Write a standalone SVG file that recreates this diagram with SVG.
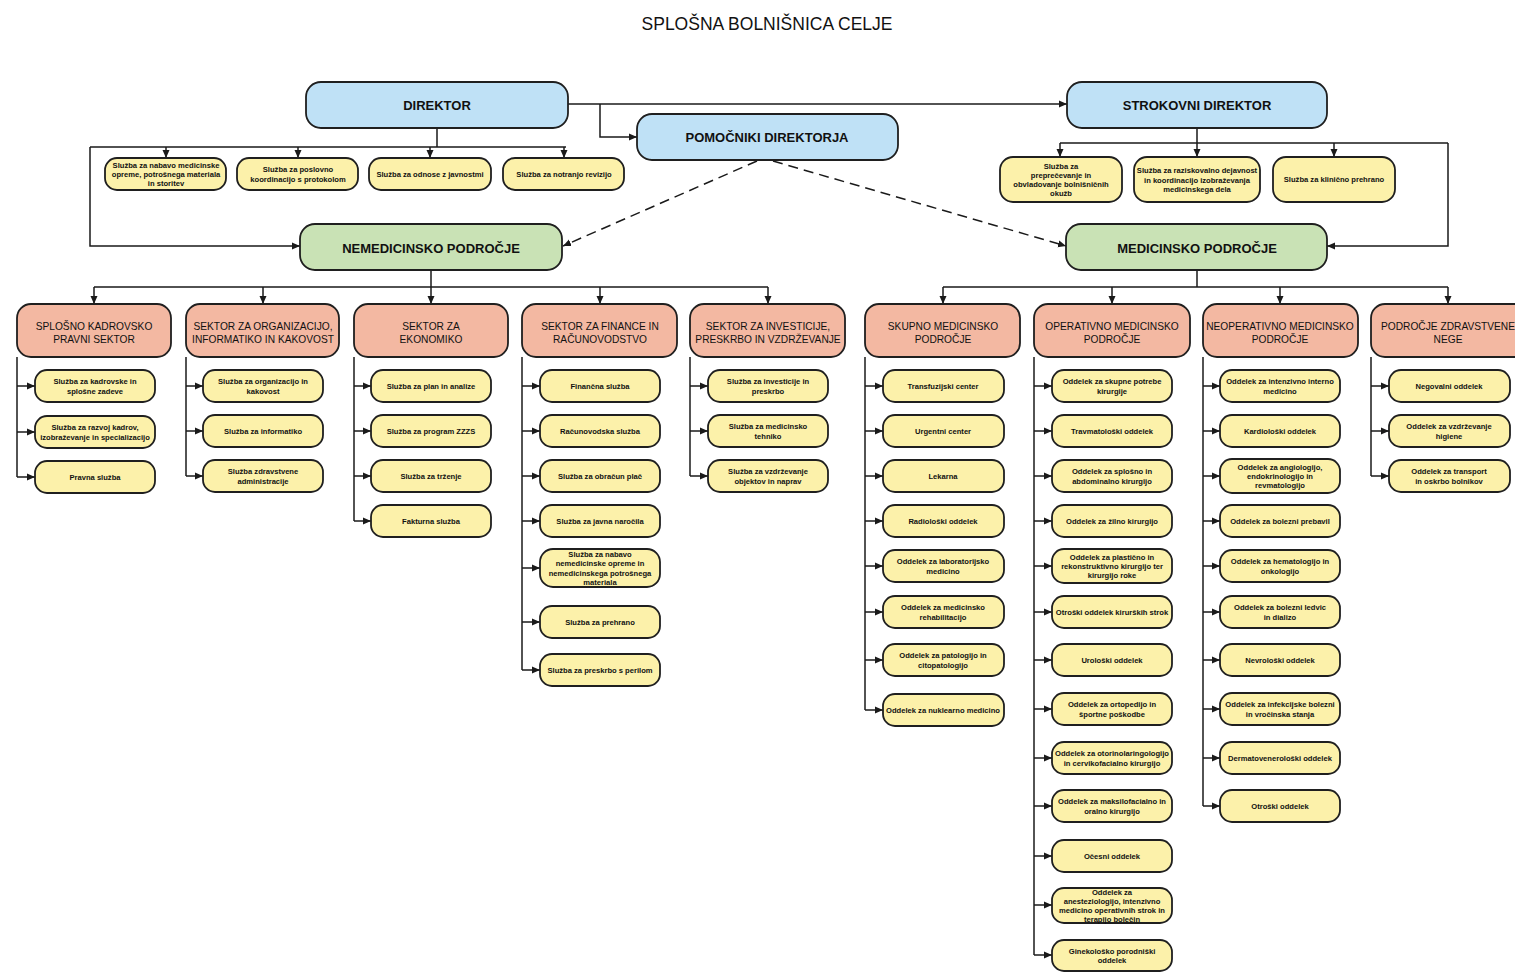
<svg xmlns="http://www.w3.org/2000/svg" width="1515" height="972" viewBox="0 0 1515 972">
<defs>
<marker id="ar" markerUnits="userSpaceOnUse" markerWidth="9" markerHeight="8" refX="8" refY="4" orient="auto"><path d="M0,0.5 L8,4 L0,7.5 z" fill="#1a1a1a"/></marker>
</defs>
<style>
.ln{fill:none;stroke:#1a1a1a;stroke-width:1.5}
.a{marker-end:url(#ar)}
.dash{stroke-dasharray:10 6}
.bl{fill:#bfe1f6;stroke:#1f1f1f;stroke-width:1.8}
.gr{fill:#c9e2b5;stroke:#1f1f1f;stroke-width:1.8}
.sa{fill:#f3b8a2;stroke:#1f1f1f;stroke-width:1.8}
.ye{fill:#fcf1aa;stroke:#1f1f1f;stroke-width:1.8}
text{font-family:"Liberation Sans",Arial,sans-serif;fill:#111;text-anchor:middle;dominant-baseline:central}
.t{font-size:17.5px}
.h{font-size:13px;font-weight:bold}
.s{font-size:10.2px}
.c{font-size:7.6px;font-weight:bold}
</style>
<rect width="1515" height="972" fill="#ffffff"/>
<text class="t" x="767" y="24">SPLOŠNA BOLNIŠNICA CELJE</text>

<g id="connectors">
<path class="ln a" d="M568,104 H1067"/>
<path class="ln a" d="M600,104 V137 H637"/>
<path class="ln" d="M437,128 V147 M90,147 H566"/>
<path class="ln a" d="M166,147 V158"/><path class="ln a" d="M298,147 V158"/><path class="ln a" d="M430,147 V158"/><path class="ln a" d="M564,147 V158"/>
<path class="ln a" d="M90,147 V246 H300"/>
<path class="ln" d="M1197,128 V143 M1060,143 H1448"/>
<path class="ln a" d="M1060,143 V157"/><path class="ln a" d="M1197,143 V157"/><path class="ln a" d="M1334,143 V157"/>
<path class="ln a" d="M1448,143 V246 H1327"/>
<path class="ln dash a" d="M757,161 L563,246"/>
<path class="ln dash a" d="M773,161 L1066,246"/>
<path class="ln" d="M431,270 V287 M94,287 H768"/>
<path class="ln a" d="M94,287 V304"/><path class="ln a" d="M263,287 V304"/><path class="ln a" d="M431,287 V304"/><path class="ln a" d="M600,287 V304"/><path class="ln a" d="M768,287 V304"/>
<path class="ln" d="M1197,270 V287 M943,287 H1448"/>
<path class="ln a" d="M943,287 V304"/><path class="ln a" d="M1112,287 V304"/><path class="ln a" d="M1280,287 V304"/><path class="ln a" d="M1448,287 V304"/>
<path class="ln" d="M17,357 V477"/>
<path class="ln a" d="M17,386 H35"/><path class="ln a" d="M17,432 H35"/><path class="ln a" d="M17,477 H35"/>
<path class="ln" d="M186,357 V476"/>
<path class="ln a" d="M186,386 H203"/><path class="ln a" d="M186,431 H203"/><path class="ln a" d="M186,476 H203"/>
<path class="ln" d="M354,357 V521"/>
<path class="ln a" d="M354,386 H371"/><path class="ln a" d="M354,431 H371"/><path class="ln a" d="M354,476 H371"/><path class="ln a" d="M354,521 H371"/>
<path class="ln" d="M522,357 V670"/>
<path class="ln a" d="M522,386 H540"/><path class="ln a" d="M522,431 H540"/><path class="ln a" d="M522,476 H540"/><path class="ln a" d="M522,521 H540"/><path class="ln a" d="M522,568 H540"/><path class="ln a" d="M522,622 H540"/><path class="ln a" d="M522,670 H540"/>
<path class="ln" d="M690,357 V476"/>
<path class="ln a" d="M690,386 H708"/><path class="ln a" d="M690,431 H708"/><path class="ln a" d="M690,476 H708"/>
<path class="ln" d="M865,357 V710"/>
<path class="ln a" d="M865,386 H883"/><path class="ln a" d="M865,431 H883"/><path class="ln a" d="M865,476 H883"/><path class="ln a" d="M865,521 H883"/><path class="ln a" d="M865,566 H883"/><path class="ln a" d="M865,612 H883"/><path class="ln a" d="M865,660 H883"/><path class="ln a" d="M865,710 H883"/>
<path class="ln" d="M1034,357 V955"/>
<path class="ln a" d="M1034,386 H1052"/><path class="ln a" d="M1034,431 H1052"/><path class="ln a" d="M1034,476 H1052"/><path class="ln a" d="M1034,521 H1052"/><path class="ln a" d="M1034,566 H1052"/><path class="ln a" d="M1034,612 H1052"/><path class="ln a" d="M1034,660 H1052"/><path class="ln a" d="M1034,709 H1052"/><path class="ln a" d="M1034,758 H1052"/><path class="ln a" d="M1034,806 H1052"/><path class="ln a" d="M1034,856 H1052"/><path class="ln a" d="M1034,905 H1052"/><path class="ln a" d="M1034,955 H1052"/>
<path class="ln" d="M1203,357 V806"/>
<path class="ln a" d="M1203,386 H1220"/><path class="ln a" d="M1203,431 H1220"/><path class="ln a" d="M1203,476 H1220"/><path class="ln a" d="M1203,521 H1220"/><path class="ln a" d="M1203,566 H1220"/><path class="ln a" d="M1203,612 H1220"/><path class="ln a" d="M1203,660 H1220"/><path class="ln a" d="M1203,709 H1220"/><path class="ln a" d="M1203,758 H1220"/><path class="ln a" d="M1203,806 H1220"/>
<path class="ln" d="M1371,357 V476"/>
<path class="ln a" d="M1371,386 H1389"/><path class="ln a" d="M1371,431 H1389"/><path class="ln a" d="M1371,476 H1389"/>
</g>

<g id="direktor"><rect class="bl" x="306" y="82" width="262" height="46" rx="15"/><text class="h" x="437" y="105">DIREKTOR</text></g>
<g id="strokovni-direktor"><rect class="bl" x="1067" y="82" width="260" height="46" rx="15"/><text class="h" x="1197" y="105">STROKOVNI DIREKTOR</text></g>
<g id="pomocniki"><rect class="bl" x="637" y="114" width="261" height="46" rx="15"/><text class="h" x="767" y="137">POMOČNIKI DIREKTORJA</text></g>
<g id="nemedicinsko"><rect class="gr" x="300" y="224" width="262" height="46" rx="15"/><text class="h" x="431" y="248">NEMEDICINSKO PODROČJE</text></g>
<g id="medicinsko"><rect class="gr" x="1066" y="224" width="261" height="46" rx="15"/><text class="h" x="1197" y="248">MEDICINSKO PODROČJE</text></g>

<g id="d1"><rect class="ye" x="105" y="158" width="121" height="32" rx="12"/><text class="c" x="166" y="164.8"><tspan x="166">Služba za nabavo medicinske</tspan><tspan x="166" dy="9.2">opreme, potrošnega materiala</tspan><tspan x="166" dy="9.2">in storitev</tspan></text></g>
<g id="d2"><rect class="ye" x="237" y="158" width="121" height="32" rx="12"/><text class="c" x="298" y="169.4"><tspan x="298">Služba za poslovno</tspan><tspan x="298" dy="9.2">koordinacijo s protokolom</tspan></text></g>
<g id="d3"><rect class="ye" x="369" y="158" width="122" height="32" rx="12"/><text class="c" x="430" y="174">Služba za odnose z javnostmi</text></g>
<g id="d4"><rect class="ye" x="503" y="158" width="121" height="32" rx="12"/><text class="c" x="564" y="174">Služba za notranjo revizijo</text></g>

<g id="s1"><rect class="ye" x="1000" y="157" width="122" height="45" rx="13"/><text class="c" x="1061" y="165.7"><tspan x="1061">Služba za</tspan><tspan x="1061" dy="9.2">preprečevanje in</tspan><tspan x="1061" dy="9.2">obvladovanje bolnišničnih</tspan><tspan x="1061" dy="9.2">okužb</tspan></text></g>
<g id="s2"><rect class="ye" x="1134" y="157" width="126" height="45" rx="13"/><text class="c" x="1197" y="170.3"><tspan x="1197">Služba za raziskovalno dejavnost</tspan><tspan x="1197" dy="9.2">in koordinacijo izobraževanja</tspan><tspan x="1197" dy="9.2">medicinskega dela</tspan></text></g>
<g id="s3"><rect class="ye" x="1273" y="157" width="122" height="45" rx="13"/><text class="c" x="1334" y="179.5">Služba za klinično prehrano</text></g>

<g id="sec1"><rect class="sa" x="17" y="304" width="154" height="53" rx="14"/><text class="s" x="94" y="326"><tspan x="94">SPLOŠNO KADROVSKO</tspan><tspan x="94" dy="13">PRAVNI SEKTOR</tspan></text></g>
<g id="sec2"><rect class="sa" x="186" y="304" width="153" height="53" rx="14"/><text class="s" x="263" y="326"><tspan x="263">SEKTOR ZA ORGANIZACIJO,</tspan><tspan x="263" dy="13">INFORMATIKO IN KAKOVOST</tspan></text></g>
<g id="sec3"><rect class="sa" x="354" y="304" width="154" height="53" rx="14"/><text class="s" x="431" y="326"><tspan x="431">SEKTOR ZA</tspan><tspan x="431" dy="13">EKONOMIKO</tspan></text></g>
<g id="sec4"><rect class="sa" x="522" y="304" width="155" height="53" rx="14"/><text class="s" x="600" y="326"><tspan x="600">SEKTOR ZA FINANCE IN</tspan><tspan x="600" dy="13">RAČUNOVODSTVO</tspan></text></g>
<g id="sec5"><rect class="sa" x="690" y="304" width="155" height="53" rx="14"/><text class="s" x="768" y="326"><tspan x="768">SEKTOR ZA INVESTICIJE,</tspan><tspan x="768" dy="13">PRESKRBO IN VZDRŽEVANJE</tspan></text></g>
<g id="sec6"><rect class="sa" x="865" y="304" width="155" height="53" rx="14"/><text class="s" x="943" y="326"><tspan x="943">SKUPNO MEDICINSKO</tspan><tspan x="943" dy="13">PODROČJE</tspan></text></g>
<g id="sec7"><rect class="sa" x="1034" y="304" width="156" height="53" rx="14"/><text class="s" x="1112" y="326"><tspan x="1112">OPERATIVNO MEDICINSKO</tspan><tspan x="1112" dy="13">PODROČJE</tspan></text></g>
<g id="sec8"><rect class="sa" x="1203" y="304" width="155" height="53" rx="14"/><text class="s" x="1280" y="326"><tspan x="1280">NEOPERATIVNO MEDICINSKO</tspan><tspan x="1280" dy="13">PODROČJE</tspan></text></g>
<g id="sec9"><rect class="sa" x="1371" y="304" width="160" height="53" rx="14"/><text class="s" x="1448" y="326"><tspan x="1448">PODROČJE ZDRAVSTVENE</tspan><tspan x="1448" dy="13">NEGE</tspan></text></g>

<g id="c1-1"><rect class="ye" x="35" y="370" width="120" height="32" rx="12"/><text class="c" x="95" y="381.4"><tspan x="95">Služba za kadrovske in</tspan><tspan x="95" dy="9.2">splošne zadeve</tspan></text></g>
<g id="c1-2"><rect class="ye" x="35" y="416" width="120" height="32" rx="12"/><text class="c" x="95" y="427.4"><tspan x="95">Služba za razvoj kadrov,</tspan><tspan x="95" dy="9.2">izobraževanje in specializacijo</tspan></text></g>
<g id="c1-3"><rect class="ye" x="35" y="461" width="120" height="32" rx="12"/><text class="c" x="95" y="477">Pravna služba</text></g>
<g id="c2-1"><rect class="ye" x="203" y="370" width="120" height="32" rx="12"/><text class="c" x="263" y="381.4"><tspan x="263">Služba za organizacijo in</tspan><tspan x="263" dy="9.2">kakovost</tspan></text></g>
<g id="c2-2"><rect class="ye" x="203" y="415" width="120" height="32" rx="12"/><text class="c" x="263" y="431">Služba za informatiko</text></g>
<g id="c2-3"><rect class="ye" x="203" y="460" width="120" height="32" rx="12"/><text class="c" x="263" y="471.4"><tspan x="263">Služba zdravstvene</tspan><tspan x="263" dy="9.2">administracije</tspan></text></g>
<g id="c3-1"><rect class="ye" x="371" y="370" width="120" height="32" rx="12"/><text class="c" x="431" y="386">Služba za plan in analize</text></g>
<g id="c3-2"><rect class="ye" x="371" y="415" width="120" height="32" rx="12"/><text class="c" x="431" y="431">Služba za program ZZZS</text></g>
<g id="c3-3"><rect class="ye" x="371" y="460" width="120" height="32" rx="12"/><text class="c" x="431" y="476">Služba za trženje</text></g>
<g id="c3-4"><rect class="ye" x="371" y="505" width="120" height="32" rx="12"/><text class="c" x="431" y="521">Fakturna služba</text></g>
<g id="c4-1"><rect class="ye" x="540" y="370" width="120" height="32" rx="12"/><text class="c" x="600" y="386">Finančna služba</text></g>
<g id="c4-2"><rect class="ye" x="540" y="415" width="120" height="32" rx="12"/><text class="c" x="600" y="431">Računovodska služba</text></g>
<g id="c4-3"><rect class="ye" x="540" y="460" width="120" height="32" rx="12"/><text class="c" x="600" y="476">Služba za obračun plač</text></g>
<g id="c4-4"><rect class="ye" x="540" y="505" width="120" height="32" rx="12"/><text class="c" x="600" y="521">Služba za javna naročila</text></g>
<g id="c4-5"><rect class="ye" x="540" y="549" width="120" height="38" rx="13"/><text class="c" x="600" y="554.2"><tspan x="600">Služba za nabavo</tspan><tspan x="600" dy="9.2">nemedicinske opreme in</tspan><tspan x="600" dy="9.2">nemedicinskega potrošnega</tspan><tspan x="600" dy="9.2">materiala</tspan></text></g>
<g id="c4-6"><rect class="ye" x="540" y="606" width="120" height="32" rx="12"/><text class="c" x="600" y="622">Služba za prehrano</text></g>
<g id="c4-7"><rect class="ye" x="540" y="654" width="120" height="32" rx="12"/><text class="c" x="600" y="670">Služba za preskrbo s perilom</text></g>
<g id="c5-1"><rect class="ye" x="708" y="370" width="120" height="32" rx="12"/><text class="c" x="768" y="381.4"><tspan x="768">Služba za investicije in</tspan><tspan x="768" dy="9.2">preskrbo</tspan></text></g>
<g id="c5-2"><rect class="ye" x="708" y="415" width="120" height="32" rx="12"/><text class="c" x="768" y="426.4"><tspan x="768">Služba za medicinsko</tspan><tspan x="768" dy="9.2">tehniko</tspan></text></g>
<g id="c5-3"><rect class="ye" x="708" y="460" width="120" height="32" rx="12"/><text class="c" x="768" y="471.4"><tspan x="768">Služba za vzdrževanje</tspan><tspan x="768" dy="9.2">objektov in naprav</tspan></text></g>
<g id="c6-1"><rect class="ye" x="883" y="370" width="121" height="32" rx="12"/><text class="c" x="943" y="386">Transfuzijski center</text></g>
<g id="c6-2"><rect class="ye" x="883" y="415" width="121" height="32" rx="12"/><text class="c" x="943" y="431">Urgentni center</text></g>
<g id="c6-3"><rect class="ye" x="883" y="460" width="121" height="32" rx="12"/><text class="c" x="943" y="476">Lekarna</text></g>
<g id="c6-4"><rect class="ye" x="883" y="505" width="121" height="32" rx="12"/><text class="c" x="943" y="521">Radiološki oddelek</text></g>
<g id="c6-5"><rect class="ye" x="883" y="550" width="121" height="32" rx="12"/><text class="c" x="943" y="561.4"><tspan x="943">Oddelek za laboratorijsko</tspan><tspan x="943" dy="9.2">medicino</tspan></text></g>
<g id="c6-6"><rect class="ye" x="883" y="596" width="121" height="32" rx="12"/><text class="c" x="943" y="607.4"><tspan x="943">Oddelek za medicinsko</tspan><tspan x="943" dy="9.2">rehabilitacijo</tspan></text></g>
<g id="c6-7"><rect class="ye" x="883" y="644" width="121" height="32" rx="12"/><text class="c" x="943" y="655.4"><tspan x="943">Oddelek za patologijo in</tspan><tspan x="943" dy="9.2">citopatologijo</tspan></text></g>
<g id="c6-8"><rect class="ye" x="883" y="694" width="121" height="32" rx="12"/><text class="c" x="943" y="710">Oddelek za nuklearno medicino</text></g>
<g id="c7-1"><rect class="ye" x="1052" y="370" width="120" height="32" rx="12"/><text class="c" x="1112" y="381.4"><tspan x="1112">Oddelek za skupne potrebe</tspan><tspan x="1112" dy="9.2">kirurgije</tspan></text></g>
<g id="c7-2"><rect class="ye" x="1052" y="415" width="120" height="32" rx="12"/><text class="c" x="1112" y="431">Travmatološki oddelek</text></g>
<g id="c7-3"><rect class="ye" x="1052" y="460" width="120" height="32" rx="12"/><text class="c" x="1112" y="471.4"><tspan x="1112">Oddelek za splošno in</tspan><tspan x="1112" dy="9.2">abdominalno kirurgijo</tspan></text></g>
<g id="c7-4"><rect class="ye" x="1052" y="505" width="120" height="32" rx="12"/><text class="c" x="1112" y="521">Oddelek za žilno kirurgijo</text></g>
<g id="c7-5"><rect class="ye" x="1052" y="549" width="120" height="34" rx="12"/><text class="c" x="1112" y="556.8"><tspan x="1112">Oddelek za plastično in</tspan><tspan x="1112" dy="9.2">rekonstruktivno kirurgijo ter</tspan><tspan x="1112" dy="9.2">kirurgijo roke</tspan></text></g>
<g id="c7-6"><rect class="ye" x="1052" y="596" width="120" height="32" rx="12"/><text class="c" x="1112" y="612">Otroški oddelek kirurških strok</text></g>
<g id="c7-7"><rect class="ye" x="1052" y="644" width="120" height="32" rx="12"/><text class="c" x="1112" y="660">Urološki oddelek</text></g>
<g id="c7-8"><rect class="ye" x="1052" y="693" width="120" height="32" rx="12"/><text class="c" x="1112" y="704.4"><tspan x="1112">Oddelek za ortopedijo in</tspan><tspan x="1112" dy="9.2">športne poškodbe</tspan></text></g>
<g id="c7-9"><rect class="ye" x="1052" y="742" width="120" height="32" rx="12"/><text class="c" x="1112" y="753.4"><tspan x="1112">Oddelek za otorinolaringologijo</tspan><tspan x="1112" dy="9.2">in cervikofacialno kirurgijo</tspan></text></g>
<g id="c7-10"><rect class="ye" x="1052" y="790" width="120" height="32" rx="12"/><text class="c" x="1112" y="801.4"><tspan x="1112">Oddelek za maksilofacialno in</tspan><tspan x="1112" dy="9.2">oralno kirurgijo</tspan></text></g>
<g id="c7-11"><rect class="ye" x="1052" y="840" width="120" height="32" rx="12"/><text class="c" x="1112" y="856">Očesni oddelek</text></g>
<g id="c7-12"><rect class="ye" x="1052" y="888" width="120" height="35" rx="12"/><text class="c" x="1112" y="891.7"><tspan x="1112">Oddelek za</tspan><tspan x="1112" dy="9.2">anesteziologijo, intenzivno</tspan><tspan x="1112" dy="9.2">medicino operativnih strok in</tspan><tspan x="1112" dy="9.2">terapijo bolečin</tspan></text></g>
<g id="c7-13"><rect class="ye" x="1052" y="940" width="120" height="31" rx="12"/><text class="c" x="1112" y="951"><tspan x="1112">Ginekološko porodniški</tspan><tspan x="1112" dy="9.2">oddelek</tspan></text></g>
<g id="c8-1"><rect class="ye" x="1220" y="370" width="120" height="32" rx="12"/><text class="c" x="1280" y="381.4"><tspan x="1280">Oddelek za intenzivno interno</tspan><tspan x="1280" dy="9.2">medicino</tspan></text></g>
<g id="c8-2"><rect class="ye" x="1220" y="415" width="120" height="32" rx="12"/><text class="c" x="1280" y="431">Kardiološki oddelek</text></g>
<g id="c8-3"><rect class="ye" x="1220" y="459" width="120" height="34" rx="12"/><text class="c" x="1280" y="466.8"><tspan x="1280">Oddelek za angiologijo,</tspan><tspan x="1280" dy="9.2">endokrinologijo in</tspan><tspan x="1280" dy="9.2">revmatologijo</tspan></text></g>
<g id="c8-4"><rect class="ye" x="1220" y="505" width="120" height="32" rx="12"/><text class="c" x="1280" y="521">Oddelek za bolezni prebavil</text></g>
<g id="c8-5"><rect class="ye" x="1220" y="550" width="120" height="32" rx="12"/><text class="c" x="1280" y="561.4"><tspan x="1280">Oddelek za hematologijo in</tspan><tspan x="1280" dy="9.2">onkologijo</tspan></text></g>
<g id="c8-6"><rect class="ye" x="1220" y="596" width="120" height="32" rx="12"/><text class="c" x="1280" y="607.4"><tspan x="1280">Oddelek za bolezni ledvic</tspan><tspan x="1280" dy="9.2">in dializo</tspan></text></g>
<g id="c8-7"><rect class="ye" x="1220" y="644" width="120" height="32" rx="12"/><text class="c" x="1280" y="660">Nevrološki oddelek</text></g>
<g id="c8-8"><rect class="ye" x="1220" y="693" width="120" height="32" rx="12"/><text class="c" x="1280" y="704.4"><tspan x="1280">Oddelek za infekcijske bolezni</tspan><tspan x="1280" dy="9.2">in vročinska stanja</tspan></text></g>
<g id="c8-9"><rect class="ye" x="1220" y="742" width="120" height="32" rx="12"/><text class="c" x="1280" y="758">Dermatovenerološki oddelek</text></g>
<g id="c8-10"><rect class="ye" x="1220" y="790" width="120" height="32" rx="12"/><text class="c" x="1280" y="806">Otroški oddelek</text></g>
<g id="c9-1"><rect class="ye" x="1389" y="370" width="121" height="32" rx="12"/><text class="c" x="1449" y="386">Negovalni oddelek</text></g>
<g id="c9-2"><rect class="ye" x="1389" y="415" width="121" height="32" rx="12"/><text class="c" x="1449" y="426.4"><tspan x="1449">Oddelek za vzdrževanje</tspan><tspan x="1449" dy="9.2">higiene</tspan></text></g>
<g id="c9-3"><rect class="ye" x="1389" y="460" width="121" height="32" rx="12"/><text class="c" x="1449" y="471.4"><tspan x="1449">Oddelek za transport</tspan><tspan x="1449" dy="9.2">in oskrbo bolnikov</tspan></text></g>
</svg>
